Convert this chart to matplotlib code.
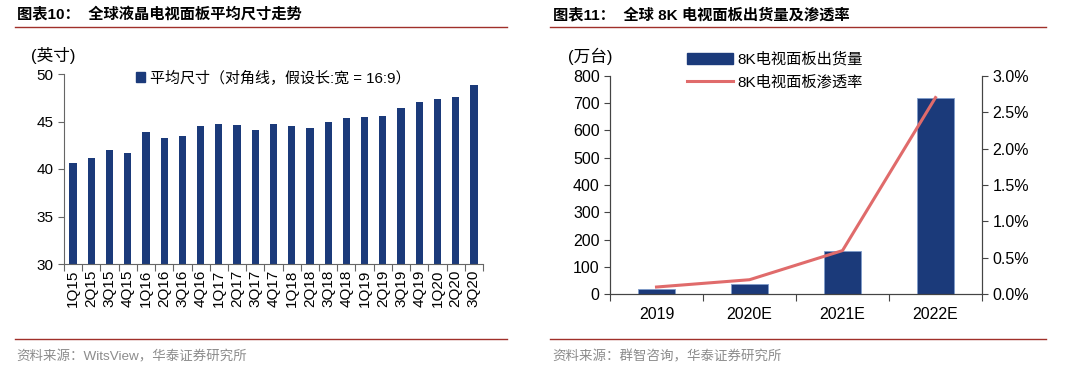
import matplotlib
matplotlib.use("Agg")
import matplotlib.pyplot as plt
from matplotlib.ticker import FuncFormatter, FixedLocator, NullFormatter
from matplotlib.lines import Line2D
from matplotlib.patches import Patch

plt.rcParams['font.family'] = ['Liberation Sans', 'Noto Sans CJK SC']
plt.rcParams['axes.unicode_minus'] = False

# ---- data: chart 10 ----
quarters = ['1Q15', '2Q15', '3Q15', '4Q15', '1Q16', '2Q16', '3Q16', '4Q16',
            '1Q17', '2Q17', '3Q17', '4Q17', '1Q18', '2Q18', '3Q18', '4Q18',
            '1Q19', '2Q19', '3Q19', '4Q19', '1Q20', '2Q20', '3Q20']
avg_size = [40.6, 41.2, 42.0, 41.7, 43.9, 43.3, 43.5, 44.5,
            44.7, 44.6, 44.1, 44.7, 44.5, 44.3, 45.0, 45.4,
            45.5, 45.6, 46.4, 47.1, 47.4, 47.6, 48.8]

# ---- data: chart 11 ----
years = ['2019', '2020E', '2021E', '2022E']
shipments = [20, 39, 160, 720]
penetration = [0.1, 0.2, 0.6, 2.7]

BAR = '#1B3A7A'
LINE = '#E06B6B'
RULE = '#A0302A'
W, H = 1076, 372

fig = plt.figure(figsize=(W / 100, H / 100), dpi=100)


def px_axes(x0, y0, x1, y1):
    # pixel box (top-left origin) -> figure axes
    return fig.add_axes([x0 / W, 1 - y1 / H, (x1 - x0) / W, (y1 - y0) / H])


def rule(x0, x1, y):
    fig.add_artist(Line2D([x0 / W, x1 / W], [1 - y / H, 1 - y / H],
                          color=RULE, lw=1.0, transform=fig.transFigure))


# headers and footers
fig.text(17 / W, 1 - 15 / H, '图表10：  全球液晶电视面板平均尺寸走势',
         fontsize=11, fontweight='bold', va='center', ha='left')
fig.text(553 / W, 1 - 15 / H, '图表11：  全球 8K 电视面板出货量及渗透率',
         fontsize=11, fontweight='bold', va='center', ha='left')
rule(15, 507, 27)
rule(550, 1046, 27)
rule(15, 507, 339)
rule(550, 1046, 339)
fig.text(16 / W, 1 - 357 / H, '资料来源：WitsView，华泰证券研究所',
         fontsize=9.7, color='#8C8C8C', va='center', ha='left')
fig.text(552 / W, 1 - 357 / H, '资料来源：群智咨询，华泰证券研究所',
         fontsize=9.7, color='#8C8C8C', va='center', ha='left')

# =============================================================================
# chart 10
# =============================================================================
ax1 = px_axes(64, 74, 483, 264)
x = list(range(len(quarters)))
ax1.bar(x, avg_size, width=0.4, color=BAR)
ax1.set_ylim(30, 50)
ax1.set_xlim(-0.5, len(quarters) - 0.5)
ax1.set_yticks([30, 35, 40, 45, 50])
ax1.xaxis.set_major_locator(FixedLocator([i - 0.5 for i in range(len(quarters) + 1)]))
ax1.xaxis.set_major_formatter(NullFormatter())
ax1.xaxis.set_minor_locator(FixedLocator(x))
ax1.set_xticklabels(quarters, minor=True, rotation=90)
ax1.tick_params(axis='x', which='minor', length=0, pad=4, labelsize=11)
ax1.tick_params(axis='x', which='major', length=5, color='#666666')
ax1.tick_params(axis='y', labelsize=11, length=4, color='#666666')
for s in ['top', 'right']:
    ax1.spines[s].set_visible(False)
for s in ['left', 'bottom']:
    ax1.spines[s].set_color('#666666')
ax1.text(-0.078, 1.1, '(英寸)', transform=ax1.transAxes, fontsize=12, ha='left', va='center')
ax1.legend(handles=[Patch(color=BAR, label='平均尺寸（对角线，假设长:宽 = 16:9）')],
           loc='upper left', bbox_to_anchor=(0.14, 1.09), frameon=False,
           fontsize=10.8, handlelength=0.6, handleheight=0.6, handletextpad=0.3)

# =============================================================================
# chart 11
# =============================================================================
ax2 = px_axes(610, 75.7, 982, 294.3)
x2 = list(range(len(years)))
ax2.bar(x2, shipments, width=0.4, color=BAR, edgecolor='#7F9CCB', linewidth=0.6)
ax2.set_ylim(0, 800)
ax2.set_xlim(-0.5, len(years) - 0.5)
ax2.set_yticks(range(0, 801, 100))
ax2.xaxis.set_major_locator(FixedLocator([i - 0.5 for i in range(len(years) + 1)]))
ax2.xaxis.set_major_formatter(NullFormatter())
ax2.xaxis.set_minor_locator(FixedLocator(x2))
ax2.set_xticklabels(years, minor=True)
ax2.tick_params(axis='x', which='minor', length=0, pad=9, labelsize=11.5)
ax2.tick_params(axis='x', which='major', length=5, color='#444444')
ax2.tick_params(axis='y', labelsize=11.5, length=4, color='#444444')
ax2.spines['top'].set_visible(False)

ax3 = ax2.twinx()
ax3.plot(x2, penetration, color=LINE, lw=2.2)
ax3.set_ylim(0, 3.0)
ax3.set_yticks([0, 0.5, 1.0, 1.5, 2.0, 2.5, 3.0])
ax3.yaxis.set_major_formatter(FuncFormatter(lambda v, p: f'{v:.1f}%'))
ax3.tick_params(axis='y', labelsize=11.5, length=4, color='#444444')
ax3.spines['top'].set_visible(False)
for a in (ax2, ax3):
    for s in ['left', 'right', 'bottom']:
        a.spines[s].set_color('#444444')

ax2.text(-0.112, 1.087, '(万台)', transform=ax2.transAxes, fontsize=12, ha='left', va='center')
handles = [Patch(color=BAR, label='8K电视面板出货量'),
           Line2D([], [], color=LINE, lw=2.2, label='8K电视面板渗透率')]
ax2.legend(handles=handles, loc='upper left', bbox_to_anchor=(0.17, 1.17), frameon=False,
           fontsize=11, handlelength=3.0, handleheight=0.8, handletextpad=0.3,
           labelspacing=0.55)

fig.savefig('out.png', dpi=100)
